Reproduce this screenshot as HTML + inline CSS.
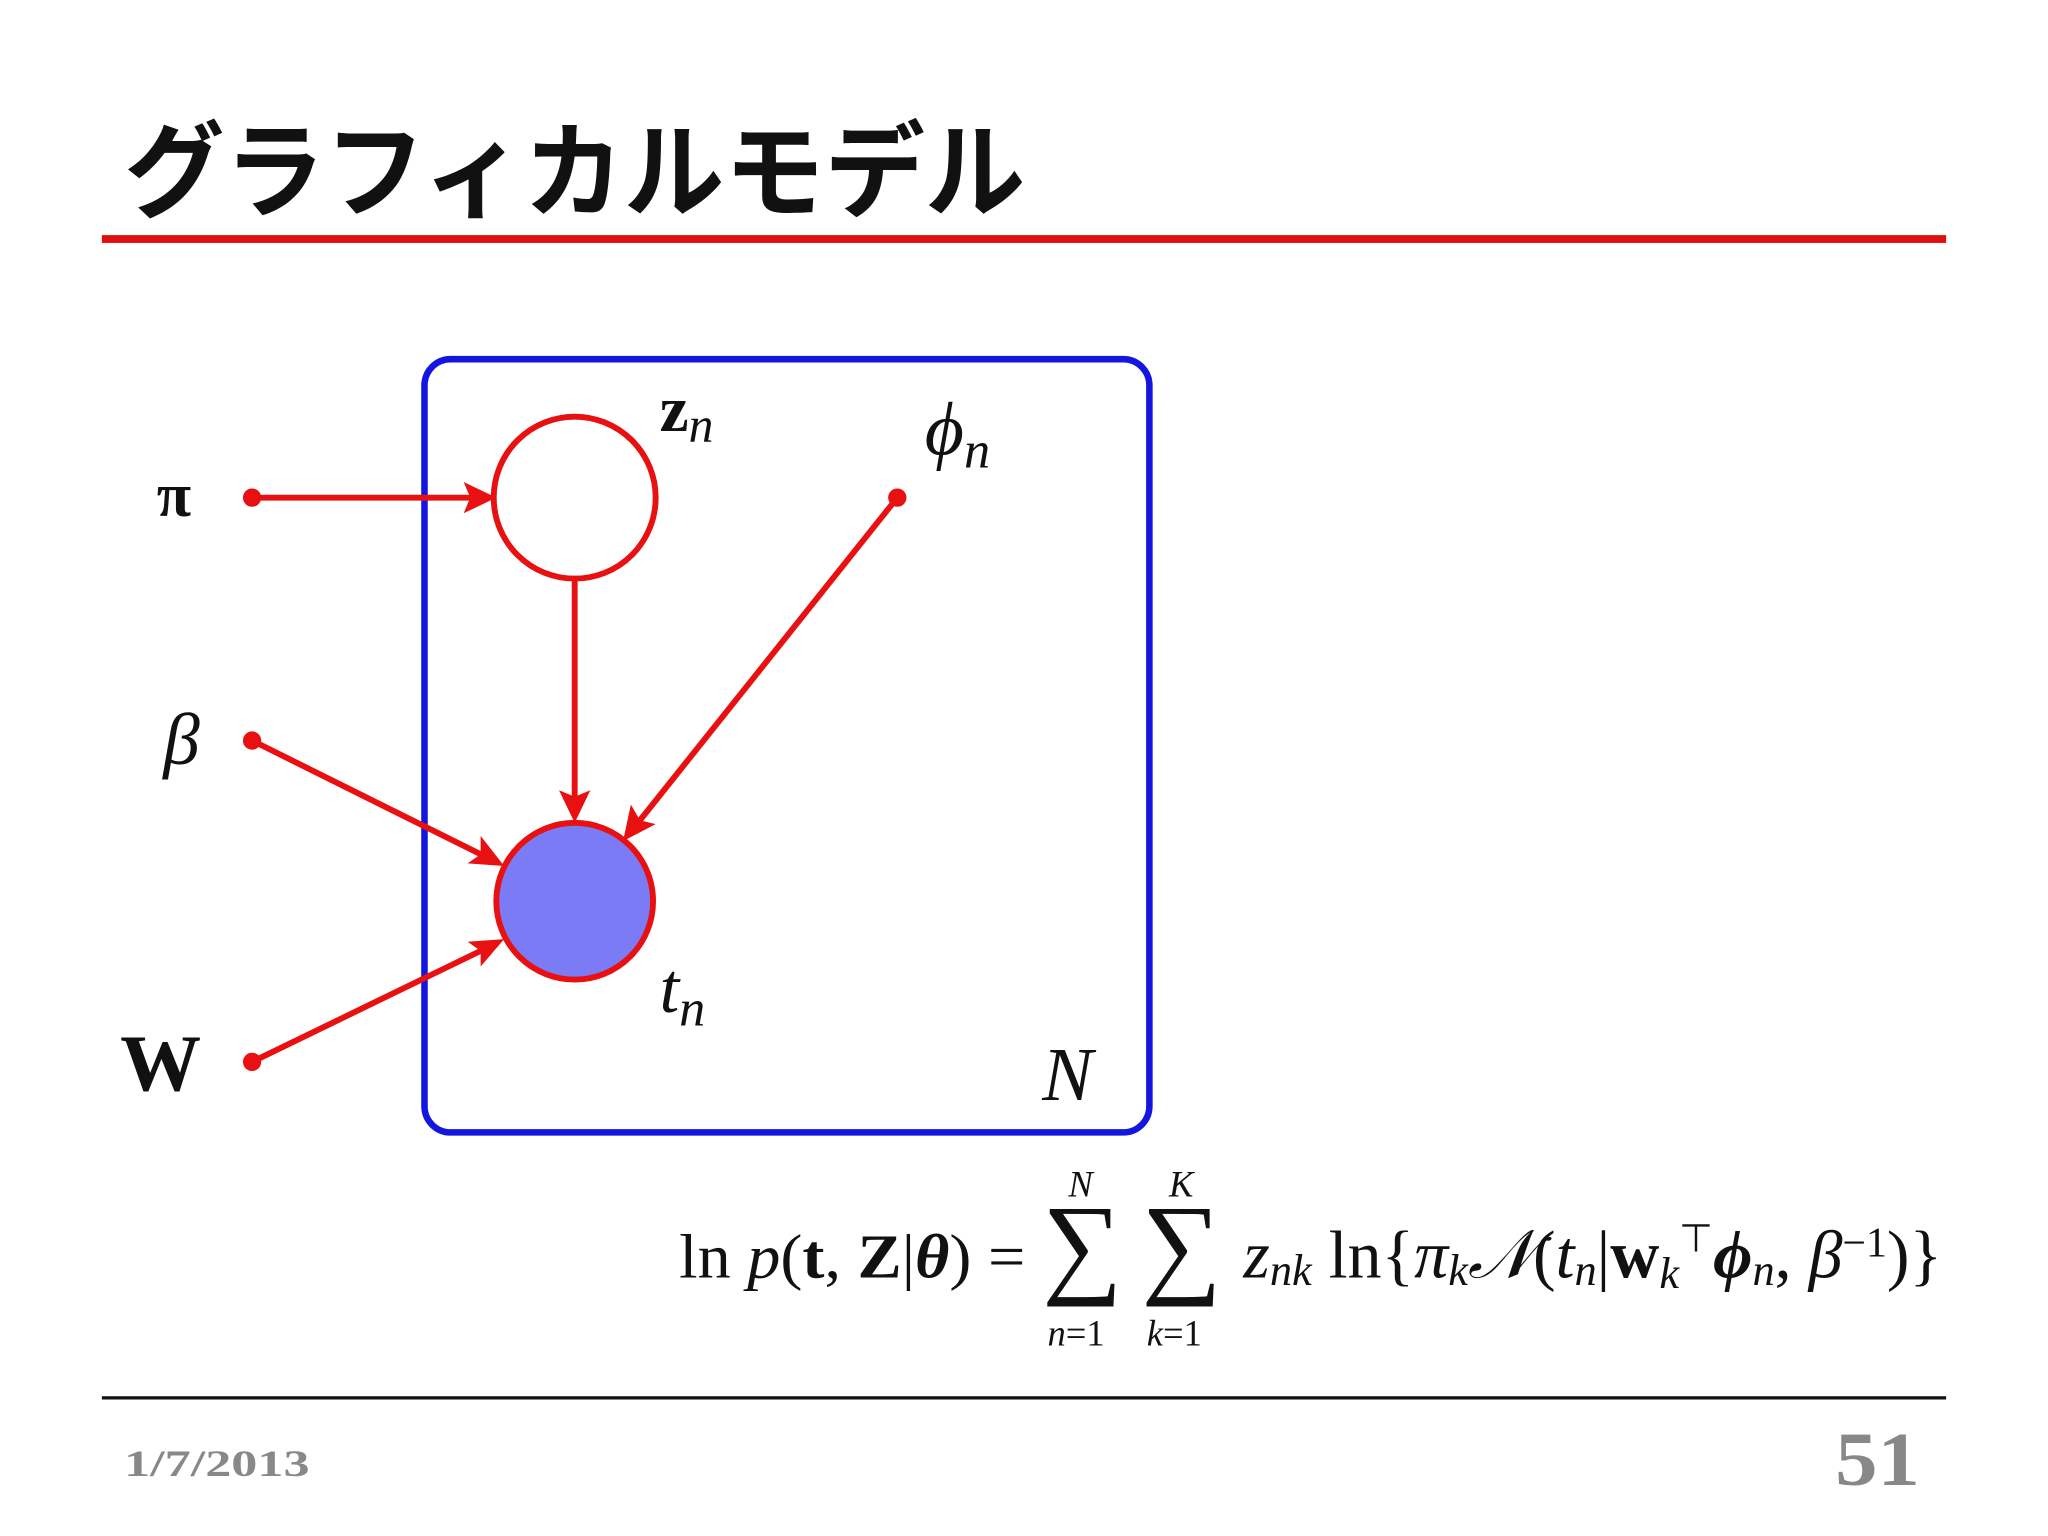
<!DOCTYPE html>
<html><head><meta charset="utf-8"><style>
html,body{margin:0;padding:0;background:#fff;}
svg{display:block;}
</style></head><body>
<svg width="2048" height="1536" viewBox="0 0 1568 1176" xmlns="http://www.w3.org/2000/svg">
<rect width="1568" height="1176" fill="#fff"/>
<text x="95" y="160" font-family="'Noto Sans CJK JP',sans-serif" font-weight="bold" font-size="80" fill="#111" textLength="690" lengthAdjust="spacingAndGlyphs">グラフィカルモデル</text>
<rect x="78" y="180" width="1412" height="6" fill="#e01010"/>
<rect x="325" y="275" width="555" height="592" rx="20" fill="none" stroke="#1515e0" stroke-width="5"/>
<g stroke="#e81010" stroke-width="4.5" fill="#e81010">
<circle cx="440" cy="381" r="62" fill="#fff"/>
<circle cx="440" cy="690" r="60" fill="#7b7bf5"/>
<line x1="193" y1="381" x2="362" y2="381"/>
<line x1="440" y1="443" x2="440" y2="612"/>
<line x1="193" y1="567" x2="368" y2="654"/>
<line x1="193" y1="813" x2="368" y2="728"/>
<line x1="687" y1="381" x2="490" y2="628"/>
<circle cx="193" cy="381" r="7" stroke="none"/>
<circle cx="193" cy="567" r="7" stroke="none"/>
<circle cx="193" cy="813" r="7" stroke="none"/>
<circle cx="687" cy="381" r="7" stroke="none"/>
</g>
<g fill="#e81010">
<polygon points="380,381 355,369 360,381 355,393"/>
<polygon points="440,630 428,605 440,610 452,605"/>
<polygon points="386,663 358,661 368,654 368,640"/>
<polygon points="386,719 368,740 368,728 358,721"/>
<polygon points="477,644 483,616 490,628 502,631"/>
</g>
<g font-family="'Liberation Serif',serif" fill="#111">
<text x="120" y="395" font-size="48" font-weight="bold">π</text>
<text x="125" y="585" font-size="56" font-style="italic">β</text>
<text x="92" y="835" font-size="62" font-weight="bold">W</text>
<text x="505" y="330" font-size="50" font-weight="bold">z<tspan font-size="38" font-style="italic" font-weight="normal" dy="8">n</tspan></text>
<text x="708" y="348" font-size="58" font-style="italic">ϕ<tspan font-size="40" dy="10">n</tspan></text>
<text x="505" y="775" font-size="54" font-style="italic">t<tspan font-size="40" dy="10">n</tspan></text>
<text x="798" y="842" font-size="58" font-style="italic">N</text>
</g>
<g font-family="'Liberation Serif',serif" fill="#111" font-size="48">
<text x="520" y="978" textLength="265" lengthAdjust="spacingAndGlyphs">ln <tspan font-style="italic">p</tspan>(<tspan font-weight="bold">t</tspan>, <tspan font-weight="bold">Z</tspan>|<tspan font-weight="bold" font-style="italic">θ</tspan>) =</text>
<text x="798" y="982" font-size="86">∑</text>
<text x="874" y="982" font-size="86">∑</text>
<text x="818" y="916" font-size="28" font-style="italic">N</text>
<text x="895" y="916" font-size="28" font-style="italic">K</text>
<text x="802" y="1030" font-size="28"><tspan font-style="italic">n</tspan>=1</text>
<text x="878" y="1030" font-size="28"><tspan font-style="italic">k</tspan>=1</text>
<text x="952" y="978" font-size="52"><tspan font-style="italic">z<tspan font-size="34" dy="6">nk</tspan></tspan><tspan dy="-6"> ln{</tspan><tspan font-style="italic">π<tspan font-size="34" dy="6">k</tspan><tspan dy="-6">𝒩</tspan></tspan>(<tspan font-style="italic">t<tspan font-size="34" dy="6">n</tspan></tspan><tspan dy="-6">|</tspan><tspan font-weight="bold">w</tspan><tspan font-size="34" font-style="italic" dy="8">k</tspan><tspan font-size="30" dy="-28">⊤</tspan><tspan font-weight="bold" font-style="italic" dy="20">ϕ</tspan><tspan font-style="italic" font-size="34" dy="6">n</tspan><tspan dy="-6">, </tspan><tspan font-style="italic">β</tspan><tspan font-size="32" dy="-16">−1</tspan><tspan dy="16">)}</tspan></text>
</g>
<rect x="78" y="1069" width="1412" height="2.5" fill="#111"/>
<text x="95" y="1130" font-family="'Liberation Serif',serif" font-weight="bold" font-size="28" fill="#888" textLength="142" lengthAdjust="spacingAndGlyphs">1/7/2013</text>
<text x="1405" y="1137" font-family="'Liberation Serif',serif" font-weight="bold" font-size="58" fill="#888" textLength="65" lengthAdjust="spacingAndGlyphs">51</text>
</svg>
</body></html>
